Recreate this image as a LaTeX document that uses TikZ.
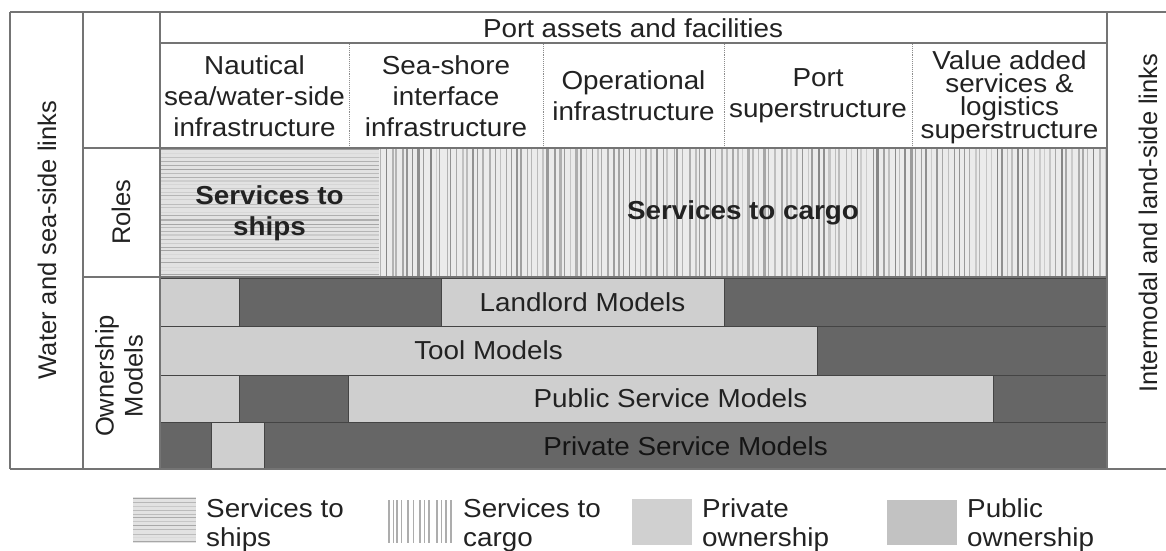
\documentclass[tikz,border=0pt]{standalone}
\usepackage{fontspec}
\setmainfont{Liberation Sans}
\usepackage{graphicx}
\definecolor{gridc}{HTML}{747474}
\definecolor{lightg}{HTML}{CFCFCF}
\definecolor{darkg}{HTML}{666666}
\definecolor{segline}{HTML}{444444}
\definecolor{txt}{HTML}{222222}
\definecolor{privsw}{HTML}{D0D0D0}
\definecolor{pubsw}{HTML}{C2C2C2}
\definecolor{shipbg}{HTML}{E2E2E2}
\newcommand{\hs}[1]{\scalebox{1.07}[1]{#1}}
\begin{document}
\begin{tikzpicture}[x=1pt,y=-1pt,
  gridline/.style={draw=gridc, line width=2pt},
  colsep/.style={draw=gray!90, line width=0.9pt, densely dotted},
  lbl/.style={font=\fontsize{26}{31}\selectfont, text=txt, align=center, inner sep=0pt},
  rotlbl/.style={font=\fontsize{25.5}{29}\selectfont, text=txt, align=center, inner sep=0pt, rotate=90},
  tightlbl/.style={font=\fontsize{26}{23}\selectfont, text=txt, align=center, inner sep=0pt},
  boldlbl/.style={font=\bfseries\fontsize{26}{31}\selectfont, text=txt, align=center, inner sep=0pt},
  leglbl/.style={font=\fontsize{26}{29}\selectfont, text=txt, anchor=base west, inner sep=0pt},
  privseg/.style={fill=lightg, draw=segline, line width=0.8pt},
  pubseg/.style={fill=darkg, draw=segline, line width=0.8pt}
]
\useasboundingbox (0,0) rectangle (1166,550);
\fill[white] (0,0) rectangle (1166,550);

% ---------- Roles: services to ships (horizontal hatch)
\pgfmathsetseed{11}
\fill[shipbg] (160,148) rectangle (379,277);
\begin{scope}
  \clip (160,148) rectangle (379,277);
  \foreach \k in {0,...,33} {
    \pgfmathsetmacro\yy{149+\k*3.9+1.2*rnd}
    \pgfmathsetmacro\gv{14+26*rnd}
    \pgfmathsetmacro\lw{0.6+1.0*rnd}
    \draw[line width=\lw pt, color=black!\gv] (160,\yy) -- (379,\yy);
  }
\end{scope}

% ---------- Roles: services to cargo (vertical hatch)
\fill[black!8] (379,148) rectangle (1107,277);
\begin{scope}
  \clip (379,148) rectangle (1107,277);
  \foreach \k in {0,...,135} {
    \pgfmathsetmacro\xx{380+\k*5.4+2.5*rnd}
    \pgfmathsetmacro\gv{20+28*rnd}
    \pgfmathsetmacro\lw{0.7+1.8*rnd}
    \draw[line width=\lw pt, color=black!\gv] (\xx,148) -- (\xx,277);
  }
\end{scope}

% ---------- Ownership rows
% Landlord
\draw[privseg] (160,278) rectangle (239,326);
\draw[pubseg]  (239,278) rectangle (441,326);
\draw[privseg] (441,278) rectangle (724,326);
\draw[pubseg]  (724,278) rectangle (1107,326);
% Tool
\draw[privseg] (160,326) rectangle (817,375);
\draw[pubseg]  (817,326) rectangle (1107,375);
% Public service
\draw[privseg] (160,375) rectangle (239,422);
\draw[pubseg]  (239,375) rectangle (348,422);
\draw[privseg] (348,375) rectangle (993,422);
\draw[pubseg]  (993,375) rectangle (1107,422);
% Private service
\draw[pubseg]  (160,422) rectangle (211,469);
\draw[privseg] (211,422) rectangle (264,469);
\draw[pubseg]  (264,422) rectangle (1107,469);

% ---------- dotted column separators in header
\foreach \xx in {349,543,724,912} {
  \draw[colsep] (\xx,44) -- (\xx,147);
}

% ---------- grid
\draw[gridline] (10,12) -- (1166,12);
\draw[gridline] (10,469) -- (1166,469);
\draw[gridline] (10,12) -- (10,469);
\draw[gridline] (83,12) -- (83,469);
\draw[gridline] (160,12) -- (160,469);
\draw[gridline] (1107,12) -- (1107,469);
\draw[gridline] (160,43) -- (1107,43);
\draw[gridline] (83,148) -- (1107,148);
\draw[gridline] (83,277) -- (1107,277);

% ---------- texts
\node[lbl] (port) at (633,28) {\hs{Port assets and facilities}};
\node[lbl] (naut) at (254.5,96) {\hs{Nautical}\\\hs{sea/water-side}\\\hs{infrastructure}};
\node[lbl] (shore) at (446,96) {\hs{Sea-shore}\\\hs{interface}\\\hs{infrastructure}};
\node[lbl] (oper) at (633.5,96) {\hs{Operational}\\\hs{infrastructure}};
\node[lbl] (super) at (818,96) {\hs{Port}\\\hs{superstructure}};
\node[tightlbl] (value) at (1009.5,97) {\hs{Value added}\\\hs{services \&}\\\hs{logistics}\\\hs{superstructure}};

\node[rotlbl] (water) at (47,240) {Water and sea-side links};
\node[rotlbl] (inter) at (1148,223) {Intermodal and land-side links};
\node[rotlbl] (roles) at (121,212) {Roles};
\node[rotlbl] (own) at (119,376) {Ownership\\Models};

\node[boldlbl] (sships) at (269.5,213) {\hs{Services to}\\\hs{ships}};
\node[boldlbl] (scargo) at (743,213) {\hs{Services to cargo}};

\node[lbl] (landlord) at (582.5,302) {\hs{Landlord Models}};
\node[lbl] (tool) at (488.5,350) {\hs{Tool Models}};
\node[lbl] (pubsm) at (670.5,398) {\hs{Public Service Models}};
\node[lbl, text=black!92] (privsm) at (685.5,446) {\hs{Private Service Models}};

% ---------- legend
% ships swatch
\fill[shipbg] (133,497) rectangle (196,543);
\begin{scope}
  \clip (133,497) rectangle (196,543);
  \foreach \k in {0,...,11} {
    \pgfmathsetmacro\yy{498+\k*3.9+1.0*rnd}
    \pgfmathsetmacro\gv{14+26*rnd}
    \draw[line width=0.9pt, color=black!\gv] (133,\yy) -- (196,\yy);
  }
\end{scope}
\node[leglbl] (lg1a) at (206,517) {\hs{Services to}};
\node[leglbl] (lg1b) at (206,546) {\hs{ships}};

% cargo swatch
\foreach \xx/\w in {389/1.2,393/1.0,397/1.4,401/0.9,408/1.3,413/1.0,420/1.4,424/0.9,429/1.2,437/1.5,441/1.0,446/1.3,451/1.2} {
  \draw[line width=\w pt, color=black!32] (\xx,500) -- (\xx,543);
}
\node[leglbl] (lg2a) at (463,517) {\hs{Services to}};
\node[leglbl] (lg2b) at (463,546) {\hs{cargo}};

% private swatch
\fill[privsw] (632,499) rectangle (692,545);
\node[leglbl] (lg3a) at (702,517) {\hs{Private}};
\node[leglbl] (lg3b) at (702,546) {\hs{ownership}};

% public swatch
\fill[pubsw] (887,500) rectangle (957,545);
\node[leglbl] (lg4a) at (967,517) {\hs{Public}};
\node[leglbl] (lg4b) at (967,546) {\hs{ownership}};
\end{tikzpicture}
\end{document}
